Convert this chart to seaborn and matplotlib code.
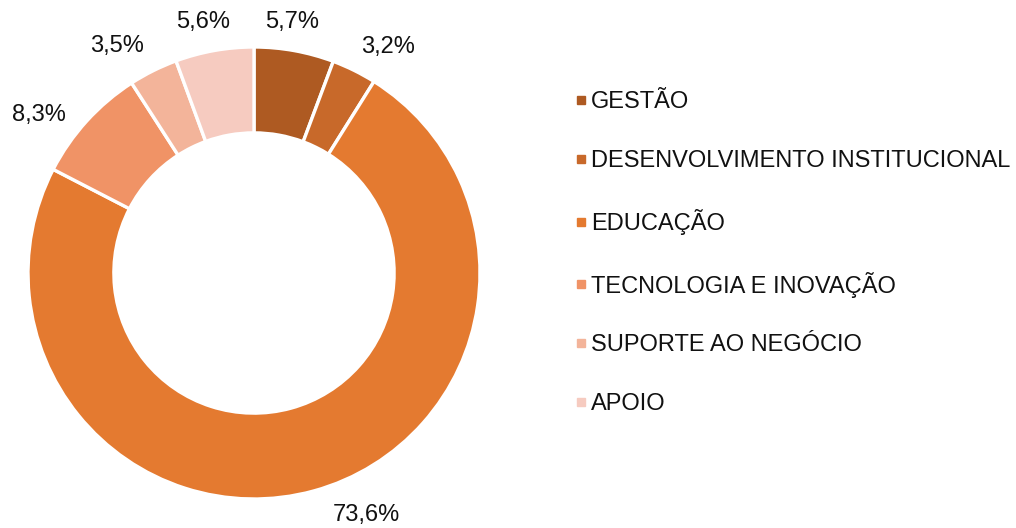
"""
Donut chart - distribuicao por area
"""
import matplotlib
matplotlib.use("Agg")
import numpy as np
import matplotlib.pyplot as plt
from matplotlib.lines import Line2D
import seaborn as sns

# data
categories = ['GESTÃO', 'DESENVOLVIMENTO INSTITUCIONAL', 'EDUCAÇÃO',
              'TECNOLOGIA E INOVAÇÃO', 'SUPORTE AO NEGÓCIO', 'APOIO']
values = [5.7, 3.2, 73.6, 8.3, 3.5, 5.6]
colors = ['#AE5A22', '#C8692A', '#E47A30', '#F09366', '#F3B49A', '#F6CBC0']

# label placement tweaks (best-fit style like the original): angle shift in deg, radius factor
label_shift = [-1.7, 4.4, -9.5, -6.0, -4.6, -1.3]
label_dist = [1.125, 1.165, 1.18, 1.18, 1.173, 1.133]

sns.set_style('white')
plt.rcParams['font.family'] = ['Liberation Sans', 'DejaVu Sans']
palette = sns.color_palette(colors)

W, H = 1016, 528
fig = plt.figure(figsize=(W / 100, H / 100), dpi=100)

# pie axes placed so that the ring centre / radius match the reference
cx, cy, r = 254, 528 - 273, 226
lim = 1.15
half = lim * r
ax = fig.add_axes([(cx - half) / W, (cy - half) / H, 2 * half / W, 2 * half / H])

wedges, _ = ax.pie(values, colors=palette, startangle=90, counterclock=False,
                   wedgeprops=dict(width=0.38, edgecolor='white', linewidth=2.4))

labels = [f'{v:.1f}%'.replace('.', ',') for v in values]
for w, lab, sh, d in zip(wedges, labels, label_shift, label_dist):
    ang = np.deg2rad((w.theta1 + w.theta2) / 2 - sh)
    ax.text(d * np.cos(ang), d * np.sin(ang), lab, ha='center', va='center',
            fontsize=17, color='#111111')

ax.set_xlim(-lim, lim)
ax.set_ylim(-lim, lim)
ax.set_aspect('equal')
ax.axis('off')

handles = [Line2D([0], [0], marker='s', linestyle='none', markersize=6,
                  markerfacecolor=c, markeredgecolor=c) for c in palette]
fig.legend(handles, categories, loc='upper left',
           bbox_to_anchor=(564 / W, 1 - 82 / H), frameon=False,
           fontsize=17, handlelength=0.6, handletextpad=0.15,
           labelspacing=1.555, borderaxespad=0, labelcolor='#111111')

plt.savefig('out.png', dpi=100)
